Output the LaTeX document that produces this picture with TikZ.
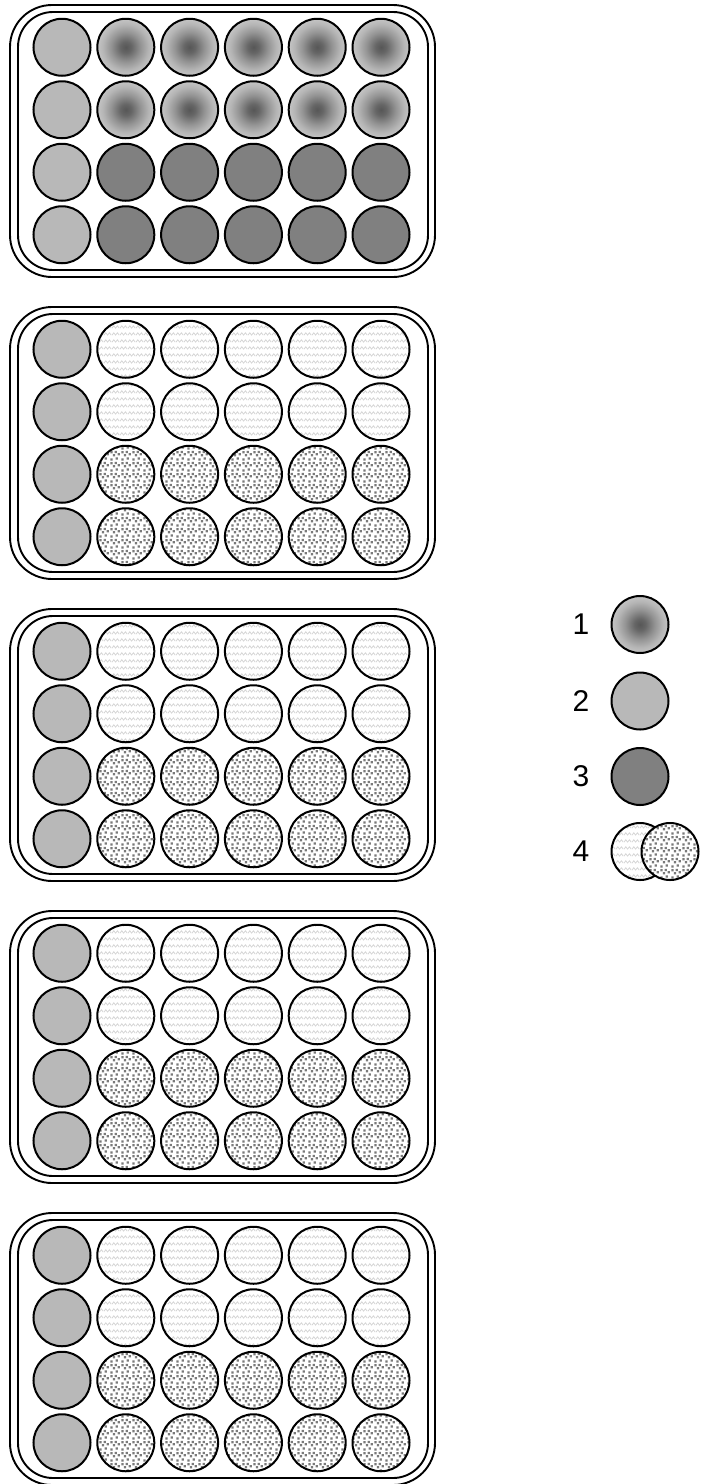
\documentclass[tikz,border=0pt]{standalone}
\usepackage{fontspec}
\setmainfont{Liberation Sans}
\usetikzlibrary{patterns}

\pgfdeclarepatternformonly{wellwaves}{\pgfqpoint{0pt}{0pt}}{\pgfqpoint{8pt}{6.5pt}}{\pgfqpoint{8pt}{6.5pt}}{%
  \pgfsetlinewidth{0.8pt}%
  \pgfpathmoveto{\pgfqpoint{0pt}{2pt}}%
  \pgfpathlineto{\pgfqpoint{2pt}{4.5pt}}%
  \pgfpathlineto{\pgfqpoint{4pt}{2pt}}%
  \pgfpathlineto{\pgfqpoint{6pt}{4.5pt}}%
  \pgfpathlineto{\pgfqpoint{8pt}{2pt}}%
  \pgfusepath{stroke}}

\pgfdeclarepatternformonly{welldots}{\pgfqpoint{0pt}{0pt}}{\pgfqpoint{11pt}{11pt}}{\pgfqpoint{11pt}{11pt}}{%
  \pgfpathrectangle{\pgfqpoint{0.5pt}{0.5pt}}{\pgfqpoint{2.4pt}{2.4pt}}%
  \pgfpathrectangle{\pgfqpoint{6pt}{1.5pt}}{\pgfqpoint{2.4pt}{2.4pt}}%
  \pgfpathrectangle{\pgfqpoint{3pt}{5pt}}{\pgfqpoint{2.4pt}{2.4pt}}%
  \pgfpathrectangle{\pgfqpoint{8.3pt}{6pt}}{\pgfqpoint{2.4pt}{2.4pt}}%
  \pgfpathrectangle{\pgfqpoint{5pt}{8.5pt}}{\pgfqpoint{2.4pt}{2.4pt}}%
  \pgfpathrectangle{\pgfqpoint{0.3pt}{8.2pt}}{\pgfqpoint{2.4pt}{2.4pt}}%
  \pgfusepath{fill}}

\pgfdeclareradialshading{wellglow}{\pgfpoint{0bp}{0bp}}{%
  color(0bp)=(black!66); color(5bp)=(black!60); color(13bp)=(black!42);
  color(20bp)=(black!29); color(25bp)=(black!23); color(50bp)=(black!23)}

\tikzset{
  plateline/.style={draw=black, line width=1.9pt},
  wellbase/.style={circle, draw=black, line width=2pt, minimum size=57pt, inner sep=0pt},
  wellglow/.style={wellbase, shading=wellglow},
  wellpale/.style={wellbase, fill=black!28},
  welldark/.style={wellbase, fill=black!50},
  wellwave/.style={wellbase, preaction={fill=white}, pattern=wellwaves, pattern color=black!17},
  welldot/.style={wellbase, preaction={fill=white}, pattern=welldots, pattern color=black!52},
  legendlabel/.style={font=\fontsize{30}{36}\selectfont, inner sep=0pt}
}

\begin{document}
\begin{tikzpicture}[x=1pt, y=-1pt]
\useasboundingbox (0,0) rectangle (704,1484);

% plates
\foreach \k in {0,...,4} {
  \draw[plateline, rounded corners=42pt] (10,{5+302*\k}) rectangle (435,{277+302*\k});
  \draw[plateline, rounded corners=35pt] (18,{12+302*\k}) rectangle (428,{270+302*\k});
}

% first column of every plate
\foreach \k in {0,...,4}
  \foreach \r in {0,...,3}
    \node[wellpale] (w\k-\r-0) at (62,{47.25+62.5*\r+302*\k}) {};

% plate 1
\foreach \r in {0,1}
  \foreach \c in {1,...,5}
    \node[wellglow] (w0-\r-\c) at ({62+63.8*\c},{47.25+62.5*\r}) {};
\foreach \r in {2,3}
  \foreach \c in {1,...,5}
    \node[welldark] (w0-\r-\c) at ({62+63.8*\c},{47.25+62.5*\r}) {};

% plates 2-5
\foreach \k in {1,...,4} {
  \foreach \r in {0,1}
    \foreach \c in {1,...,5}
      \node[wellwave] (w\k-\r-\c) at ({62+63.8*\c},{47.25+62.5*\r+302*\k}) {};
  \foreach \r in {2,3}
    \foreach \c in {1,...,5}
      \node[welldot] (w\k-\r-\c) at ({62+63.8*\c},{47.25+62.5*\r+302*\k}) {};
}

% legend
\node[legendlabel] (lab1) at (581,624.5) {1};
\node[wellglow] (leg1) at (640,624.5) {};
\node[legendlabel] (lab2) at (581,701) {2};
\node[wellpale] (leg2) at (640,701) {};
\node[legendlabel] (lab3) at (581,776.5) {3};
\node[welldark] (leg3) at (640,776.5) {};
\node[legendlabel] (lab4) at (581,851.5) {4};
\node[wellwave] (leg4a) at (640,851.5) {};
\node[welldot] (leg4b) at (670,851.5) {};
\end{tikzpicture}
\end{document}
